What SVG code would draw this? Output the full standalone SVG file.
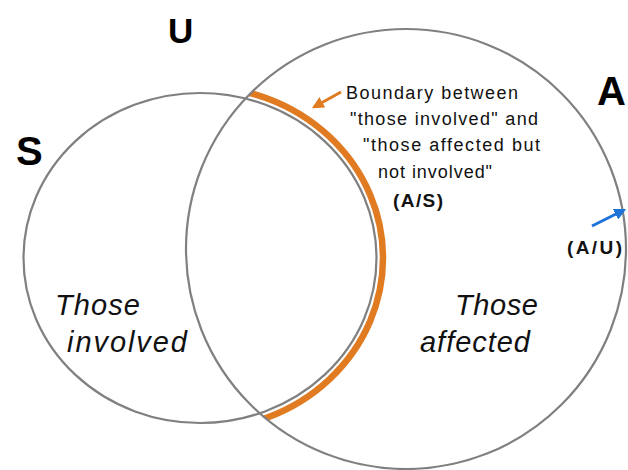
<svg xmlns="http://www.w3.org/2000/svg" width="628" height="470" viewBox="0 0 628 470">
<style>
.set{fill:none;stroke:#808080;stroke-width:2.2}
.big{font-family:"Liberation Sans",Arial,sans-serif;font-weight:bold;fill:#000}
.note{font-family:"Liberation Sans",Arial,sans-serif;font-size:18px;fill:#111}
.lab{font-family:"Liberation Sans",Arial,sans-serif;font-size:29px;font-style:italic;fill:#111}
.bnote{font-family:"Liberation Sans",Arial,sans-serif;font-weight:bold;fill:#111;font-size:19px}
</style>
<defs>
<clipPath id="inA"><circle cx="406" cy="249" r="220"/></clipPath>
<marker id="ao" viewBox="0 0 10 10" refX="8" refY="5" markerWidth="4" markerHeight="4" orient="auto"><path d="M0,0 L10,5 L0,10 z" fill="#E07B22"/></marker>
<marker id="ab" viewBox="0 0 10 10" refX="8" refY="5" markerWidth="4" markerHeight="4" orient="auto"><path d="M0,0 L10,5 L0,10 z" fill="#1E73D8"/></marker>
</defs>
<rect width="628" height="470" fill="#fff"/>
<g id="boundary-AS">
<ellipse cx="200" cy="258" rx="183" ry="171.5" fill="none" stroke="#E07B22" stroke-width="6.5" clip-path="url(#inA)"/>
</g>
<g id="S">
<ellipse class="set" cx="200" cy="258" rx="176.5" ry="165"/>
<text class="big" x="16" y="165" font-size="40">S</text>
<text class="lab" x="55" y="315" textLength="85" lengthAdjust="spacing">Those</text>
<text class="lab" x="67" y="352" textLength="120" lengthAdjust="spacing">involved</text>
</g>
<g id="A">
<circle class="set" cx="406" cy="249" r="220"/>
<text class="big" x="597" y="105" font-size="40">A</text>
<text class="lab" x="455" y="315" textLength="83" lengthAdjust="spacing">Those</text>
<text class="lab" x="420" y="352" textLength="110" lengthAdjust="spacing">affected</text>
</g>
<g id="U">
<text class="big" x="168" y="43" font-size="35">U</text>
</g>
<g id="callout-AS">
<text class="note" x="346" y="99" textLength="172" lengthAdjust="spacing">Boundary between</text>
<text class="note" x="350" y="125" textLength="188" lengthAdjust="spacing">"those involved" and</text>
<text class="note" x="363" y="151" textLength="177" lengthAdjust="spacing">"those affected but</text>
<text class="note" x="378" y="178" textLength="114" lengthAdjust="spacing">not involved"</text>
<text class="bnote" x="393" y="207" textLength="50" lengthAdjust="spacing">(A/S)</text>
</g>
<g id="callout-AU">
<text class="bnote" x="567" y="254" textLength="55" lengthAdjust="spacing">(A/U)</text>
</g>
<g id="connectors">
<line x1="341" y1="92" x2="314" y2="107" stroke="#E07B22" stroke-width="3" marker-end="url(#ao)"/>
<line x1="592" y1="226" x2="624" y2="210" stroke="#1E73D8" stroke-width="3" marker-end="url(#ab)"/>
</g>
</svg>
